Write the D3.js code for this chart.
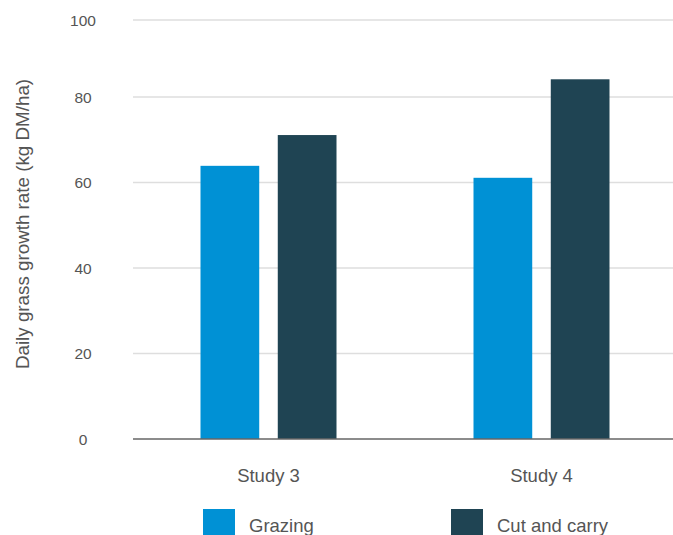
<!DOCTYPE html>
<html><head><meta charset="utf-8">
<script src="https://cdn.jsdelivr.net/npm/d3@7"></script>
<style>body{margin:0;background:#fff;overflow:hidden}svg{display:block}</style>
</head><body>
<script>
const categories = ["Study 3", "Study 4"];
const seriesNames = ["Grazing", "Cut and carry"];
const grazing = [63.9, 61.1];
const cutAndCarry = [71.1, 84.6];
const yTicks = [0, 20, 40, 60, 80, 100];
const colors = ["#0091d5", "#1f4453"];
const yTitle = "Daily grass growth rate (kg DM/ha)";

const W = 673, H = 535;
const font = "'Liberation Sans', Arial, Helvetica, sans-serif";
const svg = d3.select("body").append("svg").attr("width", W).attr("height", H);

const y = d3.scaleLinear().domain([0, 80, 100]).range([439, 97, 20]);
const x0 = d3.scaleBand().domain(categories).range([132, 678]);
const x1 = d3.scaleBand().domain(seriesNames).range([-68, 68]).paddingInner(0.24);

// gridlines
svg.append("g").selectAll("line").data(yTicks.filter(d => d > 0)).join("line")
  .attr("x1", 133).attr("x2", W).attr("y1", d => y(d)).attr("y2", d => y(d))
  .attr("stroke", "#dedede").attr("stroke-width", 1.6);

// y tick labels
svg.append("g").selectAll("text").data(yTicks).join("text")
  .attr("x", 83).attr("y", d => y(d)).attr("dy", "0.36em")
  .attr("text-anchor", "middle").attr("font-family", font).attr("font-size", 15.5)
  .attr("fill", "#555").text(d => d);

// bars
const rows = categories.map((c, i) => ({cat: c, vals: [grazing[i], cutAndCarry[i]]}));
const g = svg.append("g").selectAll("g").data(rows).join("g")
  .attr("transform", d => `translate(${x0(d.cat) + x0.bandwidth() / 2},0)`);
g.selectAll("rect").data(d => d.vals.map((v, j) => ({name: seriesNames[j], v, j}))).join("rect")
  .attr("x", d => x1(d.name)).attr("width", x1.bandwidth())
  .attr("y", d => y(d.v)).attr("height", d => y(0) - y(d.v))
  .attr("fill", d => colors[d.j]);

// x axis line
svg.append("line").attr("x1", 133).attr("x2", W).attr("y1", y(0)).attr("y2", y(0))
  .attr("stroke", "#666").attr("stroke-width", 1.5);

// category labels
svg.append("g").selectAll("text").data(categories).join("text")
  .attr("x", d => x0(d) + x0.bandwidth() / 2).attr("y", 482)
  .attr("text-anchor", "middle").attr("font-family", font).attr("font-size", 18.5)
  .attr("fill", "#555").text(d => d);

// y title
svg.append("text").attr("transform", "translate(29,224) rotate(-90)")
  .attr("text-anchor", "middle").attr("font-family", font).attr("font-size", 18.8)
  .attr("fill", "#555").text(yTitle);

// legend
const legX = [203, 451];
const lg = svg.append("g").selectAll("g").data(seriesNames).join("g")
  .attr("transform", (d, i) => `translate(${legX[i]},509)`);
lg.append("rect").attr("width", 32).attr("height", 32).attr("fill", (d, i) => colors[i]);
lg.append("text").attr("x", 46).attr("y", 23).attr("font-family", font).attr("font-size", 18.5)
  .attr("fill", "#555").text(d => d);
</script>
</body></html>
